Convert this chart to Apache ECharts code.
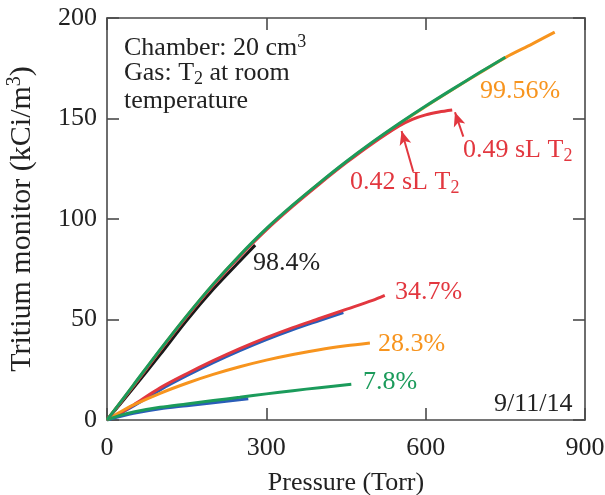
<!DOCTYPE html>
<html>
<head>
<meta charset="utf-8">
<script src="https://cdn.jsdelivr.net/npm/echarts@6/dist/echarts.min.js"></script>
<style>html,body{margin:0;padding:0;background:#fff;}#c{width:605px;height:495px;}</style>
</head>
<body>
<div id="c"></div>
<script>
// ---- data (Pressure in Torr, Tritium monitor in kCi/m^3) ----
const mainGreenX = [0,50,100,150,200,250,300,350,400,450,500,550,600,650,700,750];
const mainGreenY = [0,17.5,35,51.8,67.6,82,95.2,107,118,128.5,138.3,147.5,156.2,164.5,172.6,180.5];
const mainOrangeX = [0,50,100,150,200,250,300,350,400,450,500,550,600,650,700,750,800,843];
const mainOrangeY = [0,17.3,34.8,51.6,67.4,81.8,95,106.8,117.8,128.3,138.1,147.3,156,164.3,172.4,180.3,187,193];
const mainRedX = [0,50,100,150,200,250,300,350,400,450,500,550,575,600,625,650];
const mainRedY = [0,17,34.5,51.3,67,81.4,94.6,106.4,117.4,127.9,137.6,146.3,149.6,151.8,153.2,154.2];
const blackX = [0,50,100,150,200,250,279];
const blackY = [0,16,32.5,49.5,65,79,87];
const midRedX = [20,50,100,150,200,250,300,350,400,450,500,523];
const midRedY = [2.5,7.5,16,23,29.5,35.5,41,46,50.5,55,59.5,62];
const midBlueX = [8,50,100,150,200,250,300,350,400,445];
const midBlueY = [0.8,7,15,22,28.5,34.5,40,45,49.5,53.5];
const lowOrangeX = [0,25,50,100,150,200,250,300,350,400,450,495];
const lowOrangeY = [0,4,7.5,13.3,18.3,22.7,26.5,29.8,32.6,35,36.9,38.3];
const lowGreenX = [0,25,50,100,150,200,250,300,350,400,460];
const lowGreenY = [0,2.3,4,6.3,8,9.7,11.3,13,14.6,16.1,17.8];
const lowBlueX = [0,50,100,150,200,266];
const lowBlueY = [0,3.3,5.6,7.1,8.6,10.6];
// arrows: [tailX, tailY, headX, headY]
const arrow042 = [576.7, 123.5, 554.7, 143.8];
const arrow049 = [670.9, 141, 655.2, 153.1];
const xTicks = [0, 300, 600, 900];
const yTicks = [0, 50, 100, 150, 200];

const RED = '#e2373f', GREEN = '#1b9b5b', ORANGE = '#f7941e', BLUE = '#2a5db8', BLACK = '#1a1a1a';
const FONT = 'Liberation Serif';
const pair = (xs, ys) => xs.map((x, i) => [x, ys[i]]);

const chart = echarts.init(document.getElementById('c'), null, {renderer: 'canvas'});

function line(name, xs, ys, color, z, extra) {
  return Object.assign({
    name, type: 'line', data: pair(xs, ys), smooth: 0.3, showSymbol: false, symbol: 'none',
    lineStyle: {color, width: 3}, z, xAxisIndex: 0, yAxisIndex: 0, silent: true
  }, extra || {});
}

const axisLineStyle = {color: '#4a4a4a', width: 1.6};
const baseAxis = (min, max, interval) => ({
  type: 'value', min, max, interval,
  axisLine: {show: true, onZero: false, lineStyle: axisLineStyle},
  axisTick: {show: true, inside: true, length: 12, lineStyle: axisLineStyle},
  splitLine: {show: false}
});

const option = {
  animation: false,
  backgroundColor: '#fff',
  grid: {left: 107, right: 20, top: 18, bottom: 75, containLabel: false, outerBoundsMode: 'none'},
  xAxis: [
    Object.assign(baseAxis(xTicks[0], xTicks[xTicks.length - 1], 300), {
      position: 'bottom',
      name: 'Pressure (Torr)', nameLocation: 'middle', nameGap: 50,
      nameTextStyle: {fontFamily: FONT, fontSize: 26, color: '#222'},
      axisLabel: {fontFamily: FONT, fontSize: 26, color: '#222', margin: 15}
    }),
    Object.assign(baseAxis(xTicks[0], xTicks[xTicks.length - 1], 300), {
      position: 'top', axisLabel: {show: false}
    })
  ],
  yAxis: [
    Object.assign(baseAxis(yTicks[0], yTicks[yTicks.length - 1], 50), {
      position: 'left',
      name: '{a|Tritium monitor (kCi/m}{sup|3}{a|)}', nameLocation: 'middle', nameGap: 68,
      nameTextStyle: {fontFamily: FONT, fontSize: 30, color: '#222',
        rich: {a: {fontFamily: FONT, fontSize: 30, color: '#222'},
               sup: {fontFamily: FONT, fontSize: 20, color: '#222', padding: [0, 0, 14, 0]}}},
      axisLabel: {fontFamily: FONT, fontSize: 26, color: '#222', margin: 10}
    }),
    Object.assign(baseAxis(yTicks[0], yTicks[yTicks.length - 1], 50), {
      position: 'right', axisLabel: {show: false}
    })
  ],
  series: [
    line('black', blackX, blackY, BLACK, 2),
    line('orange main', mainOrangeX, mainOrangeY, ORANGE, 3),
    line('red main', mainRedX, mainRedY, RED, 4, {
      markLine: {
        silent: true, symbol: ['none', 'arrow'], symbolSize: [9, 14], animation: false,
        lineStyle: {color: RED, width: 2, type: 'solid'}, label: {show: false},
        data: [
          [{coord: [arrow042[0], arrow042[1]]}, {coord: [arrow042[2], arrow042[3]]}],
          [{coord: [arrow049[0], arrow049[1]]}, {coord: [arrow049[2], arrow049[3]]}]
        ]
      }
    }),
    line('green main', mainGreenX, mainGreenY, GREEN, 5),
    line('blue mid', midBlueX, midBlueY, BLUE, 2),
    line('red mid', midRedX, midRedY, RED, 3),
    line('orange low', lowOrangeX, lowOrangeY, ORANGE, 3),
    line('blue low', lowBlueX, lowBlueY, BLUE, 2),
    line('green low', lowGreenX, lowGreenY, GREEN, 3)
  ],
  graphic: [
    {type: 'text', left: 124, top: 33, style: {text: '{a|Chamber: 20 cm}{sup|3}', rich: {
      a: {fontFamily: FONT, fontSize: 26, fill: '#222'},
      sup: {fontFamily: FONT, fontSize: 18, fill: '#222', padding: [0, 0, 12, 0]}}}},
    {type: 'text', left: 124, top: 60, style: {text: '{a|Gas: T}{sub|2}{a| at room}', rich: {
      a: {fontFamily: FONT, fontSize: 26, fill: '#222'},
      sub: {fontFamily: FONT, fontSize: 18, fill: '#222', padding: [12, 0, 0, 0]}}}},
    {type: 'text', left: 124, top: 88, style: {text: 'temperature', fontFamily: FONT, fontSize: 26, fill: '#222'}},
    {type: 'text', left: 253, top: 250, style: {text: '98.4%', fontFamily: FONT, fontSize: 26, fill: '#222'}},
    {type: 'text', left: 480, top: 78, style: {text: '99.56%', fontFamily: FONT, fontSize: 26, fill: ORANGE}},
    {type: 'text', left: 463, top: 137, style: {text: '{a|0.49 sL T}{sub|2}', rich: {
      a: {fontFamily: FONT, fontSize: 26, fill: RED},
      sub: {fontFamily: FONT, fontSize: 18, fill: RED, padding: [12, 0, 0, 0]}}}},
    {type: 'text', left: 350, top: 169, style: {text: '{a|0.42 sL T}{sub|2}', rich: {
      a: {fontFamily: FONT, fontSize: 26, fill: RED},
      sub: {fontFamily: FONT, fontSize: 18, fill: RED, padding: [12, 0, 0, 0]}}}},
    {type: 'text', left: 395, top: 279, style: {text: '34.7%', fontFamily: FONT, fontSize: 26, fill: RED}},
    {type: 'text', left: 378, top: 331, style: {text: '28.3%', fontFamily: FONT, fontSize: 26, fill: ORANGE}},
    {type: 'text', left: 363, top: 369, style: {text: '7.8%', fontFamily: FONT, fontSize: 26, fill: GREEN}},
    {type: 'text', left: 494, top: 391, style: {text: '9/11/14', fontFamily: FONT, fontSize: 26, fill: '#222'}}
  ]
};
chart.setOption(option);
</script>
</body>
</html>
